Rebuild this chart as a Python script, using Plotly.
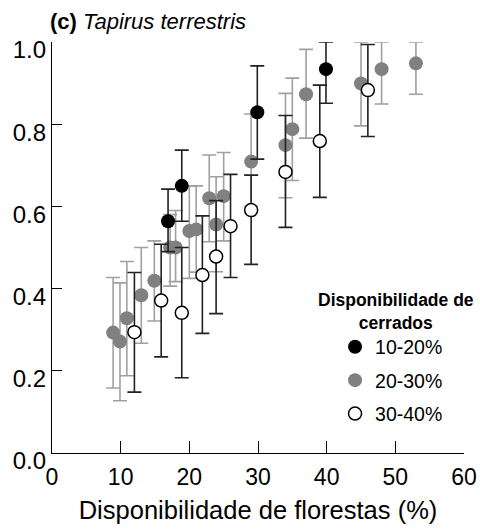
import plotly.graph_objects as go

# 10-20% de cerrados
x_10_20 = [16.9, 18.9, 29.9, 39.9]
y_10_20 = [0.564, 0.650, 0.829, 0.934]
sup_10_20 = [0.642, 0.737, 0.942, 1.0]
inf_10_20 = [0.490, 0.564, 0.715, 0.851]

# 20-30% de cerrados
x_20_30 = [8.9, 9.9, 10.9, 13.0, 14.9, 17.2, 18.0, 20.0, 21.0, 22.9, 23.9, 25.0,
           29.0, 34.0, 35.0, 37.0, 45.0, 48.0, 53.0]
y_20_30 = [0.293, 0.271, 0.328, 0.384, 0.419, 0.500, 0.500, 0.540, 0.544, 0.620, 0.556, 0.625,
           0.709, 0.749, 0.788, 0.873, 0.899, 0.934, 0.948]
sup_20_30 = [0.427, 0.414, 0.466, 0.500, 0.516, 0.580, 0.590, 0.650, 0.650, 0.725, 0.672, 0.731,
             0.825, 0.875, 0.912, 0.982, 1.0, 1.0, 1.0]
inf_20_30 = [0.158, 0.127, 0.188, 0.267, 0.321, 0.406, 0.417, 0.425, 0.440, 0.514, 0.441, 0.516,
             0.600, 0.621, 0.663, 0.766, 0.796, 0.849, 0.873]

# 30-40% de cerrados
x_30_40 = [12.0, 15.9, 18.9, 21.9, 23.9, 26.0, 29.0, 34.0, 39.0, 46.0]
y_30_40 = [0.294, 0.371, 0.341, 0.433, 0.478, 0.552, 0.591, 0.684, 0.759, 0.883]
sup_30_40 = [0.439, 0.508, 0.500, 0.577, 0.614, 0.678, 0.676, 0.821, 0.895, 0.994]
inf_30_40 = [0.148, 0.234, 0.183, 0.291, 0.339, 0.427, 0.459, 0.549, 0.622, 0.770]

xticks = [0, 10, 20, 30, 40, 50, 60]
yticks = [0.0, 0.2, 0.4, 0.6, 0.8, 1.0]

FONTE = 'Liberation Sans, Arial, sans-serif'


def barras(y, sup, inf, cor):
    # BARRAS DE ERRO ASSIMETRICAS A PARTIR DOS LIMITES
    return dict(type='data', symmetric=False,
                array=[s - v for s, v in zip(sup, y)],
                arrayminus=[v - i for v, i in zip(y, inf)],
                color=cor, thickness=1.6, width=7)


fig = go.Figure()

fig.add_trace(go.Scatter(
    x=x_20_30, y=y_20_30, mode='markers', name='20-30%',
    legendgroup='b', legendrank=2,
    marker=dict(color='#808080', size=14, line=dict(width=0)),
    error_y=barras(y_20_30, sup_20_30, inf_20_30, '#a0a0a0'),
    cliponaxis=False))

fig.add_trace(go.Scatter(
    x=x_30_40, y=y_30_40, mode='markers', name='30-40%',
    legendgroup='c', legendrank=3,
    marker=dict(color='white', size=13, line=dict(color='black', width=1.5)),
    error_y=barras(y_30_40, sup_30_40, inf_30_40, '#222222'),
    cliponaxis=False))

fig.add_trace(go.Scatter(
    x=x_10_20, y=y_10_20, mode='markers', name='10-20%',
    legendgroup='a', legendrank=1,
    marker=dict(color='black', size=14, line=dict(width=0)),
    error_y=barras(y_10_20, sup_10_20, inf_10_20, '#222222'),
    cliponaxis=False))

fig.update_layout(
    width=480, height=531,
    paper_bgcolor='white', plot_bgcolor='white',
    margin=dict(l=52, r=16, t=42, b=78),
    font=dict(family=FONTE, color='black'),
    showlegend=True,
    legend=dict(
        traceorder='grouped',
        x=0.687, y=0.305, xanchor='left', yanchor='top',
        font=dict(size=19.5), bgcolor='rgba(0,0,0,0)',
        tracegroupgap=5),
    xaxis=dict(range=[0, 60], tickvals=xticks, ticktext=[str(t) for t in xticks],
               automargin=False,
               showgrid=False, zeroline=False, showline=True, linecolor='black', linewidth=1.2,
               ticks='inside', ticklen=12, tickcolor='black',
               ticklabelstandoff=3,
               tickfont=dict(size=23),
               title=dict(text='Disponibilidade de florestas (%)', font=dict(size=25.5), standoff=12)),
    yaxis=dict(range=[0, 1], tickvals=yticks, ticktext=['%.1f' % t for t in yticks],
               automargin=False,
               showgrid=False, zeroline=False, showline=True, linecolor='black', linewidth=1.2,
               ticks='inside', ticklen=10, tickcolor='black',
               ticklabelshift=8,
               tickfont=dict(size=24)),
    annotations=[
        dict(text='<b>(c)</b> <i>Tapirus terrestris</i>',
             xref='paper', yref='paper', x=-0.01, y=1.051,
             xanchor='left', yanchor='middle', showarrow=False,
             font=dict(size=22)),
        dict(text='<b>Disponibilidade de<br>cerrados</b>',
             xref='paper', yref='paper', x=0.835, y=0.345,
             xanchor='center', yanchor='middle', align='center', showarrow=False,
             font=dict(size=17.5))]
)

# TIRA A MARGEM PADRAO DO BODY DA PAGINA E A BARRA DE FERRAMENTAS
fig.write_html('out.html', config={'displayModeBar': False},
               post_script="document.body.style.margin='0';document.body.style.overflow='hidden';")
